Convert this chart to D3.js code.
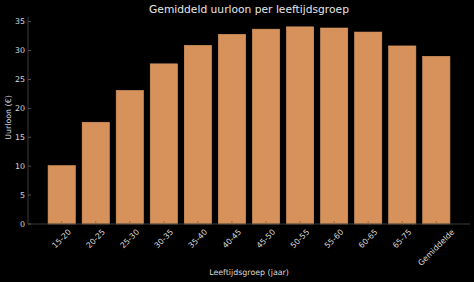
<!DOCTYPE html>
<html>
<head>
<meta charset="utf-8">
<script src="https://cdn.jsdelivr.net/npm/d3@7"></script>
<style>
  body { margin: 0; background: #000; }
  svg { display: block; }
</style>
</head>
<body>
<div id="chart"></div>
<script>
// data
const groups = ["15-20", "20-25", "25-30", "30-35", "35-40", "40-45", "45-50",
                "50-55", "55-60", "60-65", "65-75", "Gemiddelde"];
const wages = [10.1, 17.6, 23.1, 27.7, 30.9, 32.8, 33.7, 34.1, 33.9, 33.2, 30.8, 29.0];
const yTicks = [0, 5, 10, 15, 20, 25, 30, 35];

const W = 474, H = 282;
const margin = { top: 17, right: 4, bottom: 58, left: 28 };
const innerW = W - margin.left - margin.right;
const innerH = H - margin.top - margin.bottom;
const fs = 7.9;

const svg = d3.select("#chart").append("svg")
    .attr("width", W)
    .attr("height", H)
    .style("background", "#000")
    .style("font-family", "'DejaVu Sans', sans-serif");

const g = svg.append("g")
    .attr("transform", `translate(${margin.left},${margin.top})`);

// matplotlib-like: bar width 0.8 with 5% margin on each side
const n = groups.length;
const pad = (n - 0.2) * 0.05;
const xLin = d3.scaleLinear()
    .domain([-0.4 - pad, n - 1 + 0.4 + pad])
    .range([0, innerW]);
const x = d => xLin(groups.indexOf(d));

const y = d3.scaleLinear()
    .domain([0, d3.max(wages) * 1.05])
    .range([innerH, 0]);

// bars
g.selectAll(".bar")
    .data(groups)
    .enter()
    .append("rect")
    .attr("class", "bar")
    .attr("x", (d) => xLin(groups.indexOf(d) - 0.4))
    .attr("y", (d, i) => y(wages[i]))
    .attr("width", xLin(0.4) - xLin(-0.4))
    .attr("height", (d, i) => innerH - y(wages[i]))
    .attr("fill", "#d6925a")
    .attr("stroke", "#dd9a62")
    .attr("stroke-width", 0.6);

// spines
g.append("line")
    .attr("x1", 0).attr("x2", 0)
    .attr("y1", 0).attr("y2", innerH)
    .attr("stroke", "#3a3a3a").attr("stroke-width", 1);
g.append("line")
    .attr("x1", 0).attr("x2", innerW)
    .attr("y1", innerH).attr("y2", innerH)
    .attr("stroke", "#3a3a3a").attr("stroke-width", 1);

// y ticks
const yAxis = g.append("g");
yAxis.selectAll("text")
    .data(yTicks)
    .enter()
    .append("text")
    .attr("x", -3)
    .attr("y", d => y(d))
    .attr("dy", "0.35em")
    .attr("text-anchor", "end")
    .attr("fill", "#d8d8d8")
    .style("font-size", fs + "px")
    .text(d => d);
yAxis.selectAll("line")
    .data(yTicks)
    .enter()
    .append("line")
    .attr("x1", 0).attr("x2", 3)
    .attr("y1", d => y(d)).attr("y2", d => y(d))
    .attr("stroke", "#555");

// x ticks (inward) and rotated labels
const xAxis = g.append("g");
xAxis.selectAll("line")
    .data(groups)
    .enter()
    .append("line")
    .attr("x1", d => x(d)).attr("x2", d => x(d))
    .attr("y1", innerH).attr("y2", innerH - 3)
    .attr("stroke", "#9a6a40");

xAxis.selectAll("text")
    .data(groups)
    .enter()
    .append("text")
    .attr("text-anchor", "middle")
    .attr("dominant-baseline", "central")
    .attr("fill", "#d8d8d8")
    .style("font-size", fs + "px")
    .text(d => d)
    .each(function (d) {
        const w = this.getComputedTextLength();
        const half = (w + fs) * Math.SQRT1_2 / 2;
        const cy = innerH + 4 + half;
        d3.select(this).attr("transform", `translate(${x(d)},${cy}) rotate(-45)`);
    });

// title
svg.append("text")
    .attr("x", margin.left + xLin((n - 1) / 2))
    .attr("y", 13)
    .attr("text-anchor", "middle")
    .attr("fill", "#e6e6e6")
    .style("font-size", "10.7px")
    .text("Gemiddeld uurloon per leeftijdsgroep");

// x axis label
svg.append("text")
    .attr("x", margin.left + xLin((n - 1) / 2))
    .attr("y", 275)
    .attr("text-anchor", "middle")
    .attr("fill", "#d8d8d8")
    .style("font-size", fs + "px")
    .text("Leeftijdsgroep (jaar)");

// y axis label
svg.append("text")
    .attr("transform", `translate(11,${margin.top + innerH / 2 - 3}) rotate(-90)`)
    .attr("text-anchor", "middle")
    .attr("fill", "#d8d8d8")
    .style("font-size", fs + "px")
    .text("Uurloon (€)");
</script>
</body>
</html>
